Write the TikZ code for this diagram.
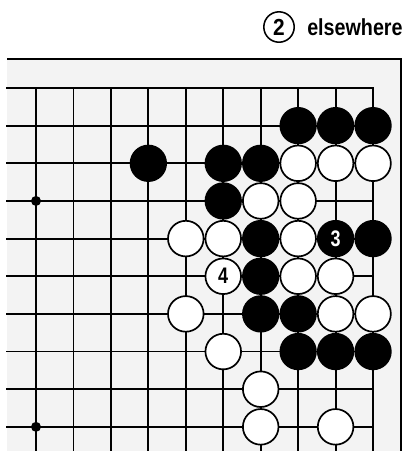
\documentclass[tikz,border=0pt]{standalone}
\usepackage{fontspec}
\setsansfont{Liberation Sans}
\usetikzlibrary{positioning}
\definecolor{BoardTint}{HTML}{F3F3F3}

\begin{document}
\begin{tikzpicture}[
  x=0.93625cm,y=-0.94125cm,
  gridline/.style={line width=1.3pt,line cap=rect},
  boardframe/.style={line width=2.1pt},
  stone/.style={circle,minimum size=0.89cm,inner sep=0pt,line width=1.2pt,
    font=\sffamily\bfseries\fontsize{16}{16}\selectfont},
  blackstone/.style={stone,draw=black,fill=black,text=white},
  whitestone/.style={stone,draw=black,fill=white,text=black},
  starpt/.style={circle,fill=black,minimum size=0.25cm,inner sep=0pt},
  label/.style={inner sep=0pt,font=\sffamily\bfseries\fontsize{16.5}{16.5}\selectfont}
]
\useasboundingbox (-0.9613,-2.3373) rectangle (9.8531,9.6414);
\fill[BoardTint] (-0.774,-0.7703) rectangle (9.7463,9.6414);
\draw[boardframe] (-0.774,-0.7703) -- (9.7463,-0.7703) -- (9.7463,9.6414);
\foreach \r in {0,...,9}
  \draw[gridline] (-0.774,\r) -- (9,\r);
\foreach \c in {0,...,9}
  \draw[gridline] (\c,0) -- (\c,9.7);
\node[starpt] (star4) at (0,3) {};
\node[starpt] (star10) at (0,9) {};
\foreach \c/\r [count=\i] in {7/1,8/1,9/1,3/2,5/2,6/2,5/3,6/4,9/4,6/5,6/6,7/6,7/7,8/7,9/7}
  \node[blackstone] (b\i) at (\c,\r) {};
\foreach \c/\r [count=\i] in {7/2,8/2,9/2,6/3,7/3,4/4,5/4,7/4,7/5,8/5,4/6,8/6,9/6,5/7,6/8,6/9,8/9}
  \node[whitestone] (w\i) at (\c,\r) {};
\node[blackstone] (move3) at (8,4) {\scalebox{0.8}[1]{3}};
\node[whitestone] (move4) at (5,5) {\scalebox{0.8}[1]{4}};
\node[label,circle,draw,line width=1.1pt,minimum size=0.76cm] (two) at (6.489,-1.620) {\scalebox{0.9}[1]{2}};
\node[label,right=0.3cm of two] (elsewhere) {\scalebox{0.85}[1]{elsewhere}};
\end{tikzpicture}
\end{document}
